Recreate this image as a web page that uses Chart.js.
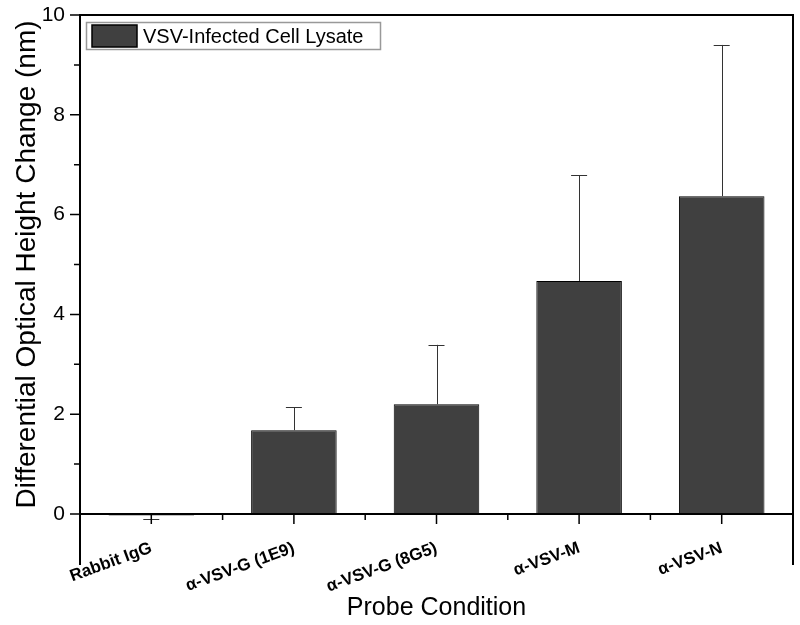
<!DOCTYPE html>
<html>
<head>
<meta charset="utf-8">
<script src="https://cdn.jsdelivr.net/npm/chart.js@4"></script>
<style>
html,body{margin:0;padding:0;background:#fff;}
#wrap{width:800px;height:625px;}
</style>
</head>
<body>
<div id="wrap"><canvas id="c" width="800" height="625"></canvas></div>
<script>
const categories = ["Rabbit IgG", "α-VSV-G (1E9)", "α-VSV-G (8G5)", "α-VSV-M", "α-VSV-N"];
const values = [-0.03, 1.68, 2.20, 4.67, 6.37];
const errors = [0.08, 0.46, 1.19, 2.12, 3.03];
const yTicks = [0, 2, 4, 6, 8, 10];
const yMinorTicks = [1, 3, 5, 7, 9];
const seriesName = "VSV-Infected Cell Lysate";
const barColor = '#404040';

const framePlugin = {
  id: 'frame',
  afterDatasetsDraw(chart) {
    const ctx = chart.ctx;
    const a = chart.chartArea;
    const x = chart.scales.x, y = chart.scales.y;
    ctx.save();
    // error bars
    ctx.strokeStyle = '#333';
    ctx.lineWidth = 1;
    values.forEach((v, i) => {
      const cx = x.getPixelForValue(i);
      const y0 = y.getPixelForValue(v);
      const y1 = y.getPixelForValue(v >= 0 ? v + errors[i] : v - errors[i]);
      ctx.beginPath();
      ctx.moveTo(Math.round(cx) + 0.5, y0);
      ctx.lineTo(Math.round(cx) + 0.5, y1);
      ctx.moveTo(cx - 8, Math.round(y1) + 0.5);
      ctx.lineTo(cx + 8, Math.round(y1) + 0.5);
      ctx.stroke();
    });
    // frame
    ctx.strokeStyle = '#000';
    ctx.lineWidth = 2;
    ctx.beginPath();
    ctx.moveTo(a.left, 565);
    ctx.lineTo(a.left, a.top);
    ctx.lineTo(a.right, a.top);
    ctx.lineTo(a.right, 565);
    ctx.moveTo(a.left, a.bottom);
    ctx.lineTo(a.right, a.bottom);
    ctx.stroke();
    // major & minor ticks
    ctx.lineWidth = 1.5;
    ctx.beginPath();
    yTicks.forEach(t => {
      const py = y.getPixelForValue(t);
      ctx.moveTo(a.left - 10, py); ctx.lineTo(a.left, py);
    });
    yMinorTicks.forEach(t => {
      const py = y.getPixelForValue(t);
      ctx.moveTo(a.left - 6, py); ctx.lineTo(a.left, py);
    });
    categories.forEach((c, i) => {
      const px = x.getPixelForValue(i);
      ctx.moveTo(px, a.bottom); ctx.lineTo(px, a.bottom + 10);
      if (i < categories.length - 1) {
        const mx = (px + x.getPixelForValue(i + 1)) / 2;
        ctx.moveTo(mx, a.bottom); ctx.lineTo(mx, a.bottom + 6);
      }
    });
    ctx.stroke();
    // legend
    const lx = a.left + 6, ly = a.top + 7;
    ctx.strokeStyle = '#999';
    ctx.lineWidth = 1.5;
    ctx.strokeRect(lx + 0.5, ly + 0.5, 294, 27);
    ctx.fillStyle = barColor;
    ctx.fillRect(lx + 6, ly + 3, 45, 22);
    ctx.strokeStyle = '#000';
    ctx.lineWidth = 1.5;
    ctx.strokeRect(lx + 6, ly + 3, 45, 22);
    ctx.fillStyle = '#000';
    ctx.font = '20px "Liberation Sans", Arial, sans-serif';
    ctx.textBaseline = 'middle';
    ctx.textAlign = 'left';
    ctx.fillText(chart.data.datasets[0].label, lx + 57, ly + 15);
    ctx.restore();
  }
};

new Chart(document.getElementById('c'), {
  type: 'bar',
  data: {
    labels: categories,
    datasets: [{
      label: seriesName,
      data: values,
      backgroundColor: barColor,
      borderColor: '#000',
      borderWidth: 1,
      borderSkipped: false,
      clip: false,
      categoryPercentage: 1.0,
      barPercentage: 0.6
    }]
  },
  options: {
    responsive: false,
    animation: false,
    devicePixelRatio: 1,
    layout: { padding: { left: 0, right: 7, top: 15, bottom: 0 } },
    plugins: {
      legend: { display: false },
      tooltip: { enabled: false }
    },
    scales: {
      x: {
        type: 'category',
        offset: true,
        grid: { display: false, drawTicks: false },
        border: { display: false },
        ticks: {
          autoSkip: false,
          minRotation: 20,
          maxRotation: 20,
          padding: 24,
          color: '#000',
          font: { family: 'Liberation Sans, Arial, sans-serif', size: 17, weight: 'bold' }
        },
        title: {
          display: true,
          text: 'Probe Condition',
          color: '#000',
          padding: { top: 0, bottom: 2 },
          font: { family: 'Liberation Sans, Arial, sans-serif', size: 25 }
        },
        afterFit(s) { s.height = 111; s.paddingLeft = 0; s.paddingRight = 0; }
      },
      y: {
        min: 0,
        max: 10,
        grid: { display: false, drawTicks: false },
        border: { display: false },
        ticks: {
          stepSize: 2,
          padding: 15,
          color: '#000',
          font: { family: 'Liberation Sans, Arial, sans-serif', size: 21 }
        },
        title: {
          display: true,
          text: 'Differential Optical Height Change (nm)',
          color: '#000',
          padding: { top: 10, bottom: 0 },
          font: { family: 'Liberation Sans, Arial, sans-serif', size: 28 }
        },
        afterFit(s) { s.width = 80; s.paddingTop = 0; s.paddingBottom = 0; }
      }
    }
  },
  plugins: [framePlugin]
});
</script>
</body>
</html>
